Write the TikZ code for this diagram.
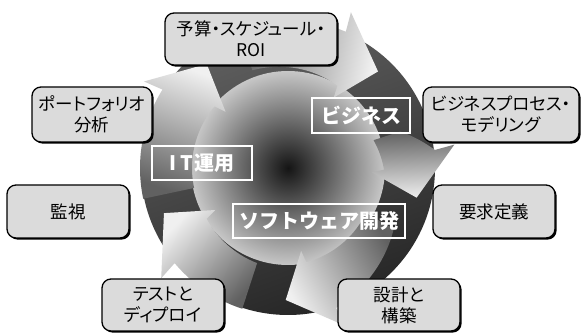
\documentclass[tikz,border=0pt]{standalone}
\usepackage{fontspec}
\newfontfamily\jp{Noto Sans CJK JP}
\newfontfamily\jpp[RawFeature=+palt]{Noto Sans CJK JP}
\usetikzlibrary{shadows}
% #1 tail angle, #2 tip angle, #3 tail inner radius, #4 tail outer radius
\newcommand\cycarrow[4]{%
  \pgfmathsetmacro\cyA{#1}%
  \pgfmathsetmacro\cyT{#2}%
  \pgfmathsetmacro\cyH{#2+20}%
  \pgfmathsetmacro\cyI{#2+12}%
  \pgfmathsetmacro\cyS{(#1+#2)/2-180}%
  \shade[top color=black!6, bottom color=black!62, shading angle=\cyS]
    (\cyA:#4) -- plot[domain=\cyA:\cyH, samples=40, variable=\x]
      (\x:{#4+(148-#4)*(\cyA-\x)/(\cyA-\cyH)})
    -- ({\cyT+21}:168) -- (\cyT:132) -- ({\cyT+10}:84) -- (\cyI:96)
    -- plot[domain=\cyI:\cyA, samples=40, variable=\x]
      (\x:{96+(#3-96)*(\x-\cyI)/(\cyA-\cyI)}) -- cycle;
}
\begin{document}
\begin{tikzpicture}[x=1pt,y=1pt,
  box/.style={draw=black, line width=1.3pt, fill=black!14, rounded corners=9pt,
    align=center, inner sep=0pt,
    font=\jpp\fontsize{17.5}{21}\selectfont,
    drop shadow={shadow xshift=1.6pt, shadow yshift=-1.6pt, fill=black, opacity=1}},
  lab/.style={draw=white, line width=1.2pt, text=white, inner sep=0pt,
    font=\jp\bfseries\fontsize{20}{22}\selectfont}]
\useasboundingbox (0,0) rectangle (582,334);
\fill[white] (0,0) rectangle (582,334);
\coordinate (C) at (288,166);
% outer disk
\shade[top color=black!62, bottom color=black!85, shading angle=20] (C) circle[radius=147];
% inner disk
\shade[inner color=black!92, outer color=black!22] (C) circle[radius=97];
% arrows
\begin{scope}[shift={(288,166)}]
  \cycarrow{110}{47}{104}{148}
  \cycarrow{18}{-13}{90}{118}
  \cycarrow{330}{269}{90}{122}
  \cycarrow{252}{200}{100}{148}
  \cycarrow{192}{128}{96}{148}
\end{scope}
% inner labels
\node[lab, minimum width=98pt, minimum height=35pt] (biz) at (361,218.5) {ビジネス};
\node[lab, minimum width=100pt, minimum height=34pt] (itops) at (202,171) {I\hspace{4pt}T\hspace{2pt}運用};
\node[lab, minimum width=172pt, minimum height=34pt] (swdev) at (319,113) {ソフトウェア開発};
% boxes
\node[box, minimum width=172pt, minimum height=52pt] (budget) at (251,295) {予算・スケジュール・\\ROI};
\node[box, minimum width=120pt, minimum height=55pt] (port) at (92,219.5) {ポートフォリオ\\分析};
\node[box, minimum width=122pt, minimum height=53pt] (mon) at (68,122.5) {監視};
\node[box, minimum width=156pt, minimum height=55pt] (bpm) at (501,219.5) {ビジネスプロセス・\\モデリング};
\node[box, minimum width=122pt, minimum height=53pt] (req) at (494,122.5) {要求定義};
\node[box, minimum width=122pt, minimum height=52pt] (test) at (163,29) {テストと\\ディプロイ};
\node[box, minimum width=122pt, minimum height=52pt] (design) at (399,29) {設計と\\構築};
\end{tikzpicture}
\end{document}
